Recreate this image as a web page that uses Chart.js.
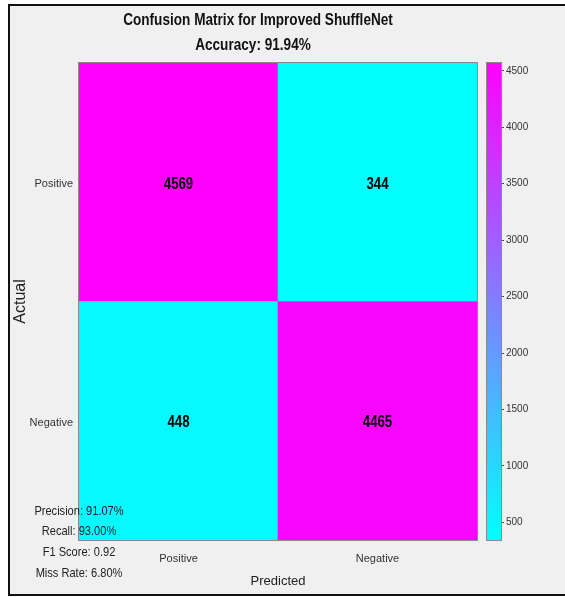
<!DOCTYPE html>
<html>
<head>
<meta charset="utf-8">
<script src="https://cdn.jsdelivr.net/npm/chart.js@4/dist/chart.umd.min.js"></script>
<style>
  html, body { margin: 0; padding: 0; background: #ffffff; overflow: hidden; width: 565px; height: 597px; }
  #frame {
    position: absolute; left: 8px; top: 4px; width: 557px; height: 592px;
    box-sizing: border-box; background: #f0f0f0;
    border-left: 2px solid #111; border-top: 2px solid #111; border-bottom: 2px solid #111; border-right: 0;
  }
  #matrix { position: absolute; left: 0; top: 0; }
  #colorbar { position: absolute; left: 480px; top: 0; }
</style>
</head>
<body>
<div id="frame"></div>
<canvas id="matrix" width="565" height="597"></canvas>
<canvas id="colorbar" width="80" height="597"></canvas>
<script>
// Class labels (rows = actual, columns = predicted)
const categories = ['Positive', 'Negative'];
// Counts per actual class, one entry per predicted class
const actualPositive = [4569, 344];
const actualNegative = [448, 4465];
// Colour bar tick values
const colorTicks = [500, 1000, 1500, 2000, 2500, 3000, 3500, 4000, 4500];
// Summary figures
const titleText = 'Confusion Matrix for Improved ShuffleNet';
const accuracy = 91.94;
const precision = 91.07;
const recall = 93.00;
const f1Score = 0.92;
const missRate = 6.80;

const SANS = "'Liberation Sans', Arial, sans-serif";

const allCounts = actualPositive.concat(actualNegative);
const cMin = Math.min(...allCounts);
const cMax = Math.max(...allCounts);

// MATLAB-style "cool" colormap: cyan -> magenta
function cool(v) {
  const t = Math.max(0, Math.min(1, (v - cMin) / (cMax - cMin)));
  return `rgb(${Math.round(255 * t)}, ${Math.round(255 * (1 - t))}, 255)`;
}

// Condensed text: squeeze glyphs horizontally around the anchor point
function narrowText(ctx, text, x, y, sx) {
  ctx.save();
  ctx.translate(x, y);
  ctx.scale(sx, 1);
  ctx.fillText(text, 0, 0);
  ctx.restore();
}

// Draws the axes box, cell counts, titles and summary text
const matrixDecor = {
  id: 'matrixDecor',
  afterDatasetsDraw(chart) {
    const { ctx, chartArea: a } = chart;
    ctx.save();
    ctx.font = `bold 16.5px ${SANS}`;
    ctx.fillStyle = '#000';
    ctx.textAlign = 'center';
    ctx.textBaseline = 'middle';
    chart.data.datasets.forEach((ds, di) => {
      chart.getDatasetMeta(di).data.forEach((el, i) => {
        narrowText(ctx, String(ds.counts[i]), el.x, (el.y + el.base) / 2 + 2, 0.8);
      });
    });
    ctx.strokeStyle = '#8a8a8a';
    ctx.lineWidth = 1;
    ctx.strokeRect(a.left - 0.5, a.top - 0.5, a.right - a.left + 1, a.bottom - a.top + 1);
    ctx.restore();
  },
  afterDraw(chart) {
    const { ctx } = chart;
    ctx.save();
    ctx.fillStyle = '#111';
    ctx.textAlign = 'center';
    ctx.textBaseline = 'middle';
    ctx.font = `bold 17px ${SANS}`;
    narrowText(ctx, titleText, 258, 20, 0.8);
    narrowText(ctx, `Accuracy: ${accuracy.toFixed(2)}%`, 253, 45, 0.8);
    ctx.font = `13.5px ${SANS}`;
    ctx.fillStyle = '#222';
    const lines = [
      [`Precision: ${precision.toFixed(2)}%`, 511],
      [`Recall: ${recall.toFixed(2)}%`, 531],
      [`F1 Score: ${f1Score.toFixed(2)}`, 552],
      [`Miss Rate: ${missRate.toFixed(2)}%`, 573]
    ];
    lines.forEach(([t, y]) => narrowText(ctx, t, 79, y, 0.82));
    ctx.restore();
  }
};

new Chart(document.getElementById('matrix'), {
  type: 'bar',
  data: {
    labels: categories,
    datasets: [
      { label: 'Negative', counts: actualNegative, data: actualNegative.map(() => 1),
        backgroundColor: actualNegative.map(cool) },
      { label: 'Positive', counts: actualPositive, data: actualPositive.map(() => 1),
        backgroundColor: actualPositive.map(cool) }
    ]
  },
  options: {
    responsive: false,
    devicePixelRatio: 1,
    animation: false,
    layout: { padding: { left: 10, top: 63, right: 88, bottom: 8 } },
    datasets: { bar: { barPercentage: 1, categoryPercentage: 1, borderWidth: 0 } },
    plugins: { legend: { display: false }, tooltip: { enabled: false }, title: { display: false } },
    scales: {
      x: {
        stacked: true,
        offset: true,
        grid: { display: false, drawTicks: false },
        border: { display: false },
        ticks: { color: '#333', font: { family: SANS, size: 11 }, padding: 12 },
        title: { display: true, text: 'Predicted', color: '#222',
                 font: { family: SANS, size: 13 }, padding: { top: 0, bottom: 0 } },
        afterFit(scale) { scale.height = 49; }
      },
      y: {
        stacked: true,
        min: 0, max: 2,
        grid: { display: false, drawTicks: false },
        border: { display: false },
        afterBuildTicks(scale) { scale.ticks = [{ value: 0.5 }, { value: 1.5 }]; },
        ticks: {
          color: '#333', font: { family: SANS, size: 11 }, padding: 6, labelOffset: 2,
          callback: (v) => (v > 1 ? categories[0] : categories[1])
        },
        title: { display: true, text: 'Actual', color: '#222',
                 font: { family: SANS, size: 16 }, padding: { top: 1, bottom: 0 } },
        afterFit(scale) { scale.width = 69; }
      }
    }
  },
  plugins: [matrixDecor]
});

// Colour bar: one floating bar spanning the data range, filled with the colormap
const colorbarBox = {
  id: 'colorbarBox',
  afterDatasetsDraw(chart) {
    const { ctx, chartArea: a } = chart;
    ctx.save();
    ctx.strokeStyle = '#8a8a8a';
    ctx.lineWidth = 1;
    ctx.strokeRect(a.left - 0.5, a.top - 0.5, a.right - a.left + 1, a.bottom - a.top + 1);
    ctx.restore();
  }
};

new Chart(document.getElementById('colorbar'), {
  type: 'bar',
  data: {
    labels: [''],
    datasets: [{
      data: [[cMin, cMax]],
      borderWidth: 0,
      barPercentage: 1,
      categoryPercentage: 1,
      backgroundColor(context) {
        const { chart } = context;
        const a = chart.chartArea;
        if (!a) return cool(cMin);
        const g = chart.ctx.createLinearGradient(0, a.bottom, 0, a.top);
        g.addColorStop(0, cool(cMin));
        g.addColorStop(1, cool(cMax));
        return g;
      }
    }]
  },
  options: {
    responsive: false,
    devicePixelRatio: 1,
    animation: false,
    layout: { padding: { left: 7, top: 63, right: 0, bottom: 57 } },
    plugins: { legend: { display: false }, tooltip: { enabled: false } },
    scales: {
      x: { display: false },
      y: {
        position: 'right',
        min: cMin, max: cMax,
        afterBuildTicks(scale) { scale.ticks = colorTicks.map(v => ({ value: v })); },
        grid: { drawOnChartArea: false, drawTicks: true, tickLength: 3, color: '#444' },
        border: { display: false },
        ticks: { color: '#333', font: { family: SANS, size: 10 }, padding: 2,
                 callback: (v) => String(v) },
        afterFit(scale) { scale.width = 59; }
      }
    }
  },
  plugins: [colorbarBox]
});
</script>
</body>
</html>
